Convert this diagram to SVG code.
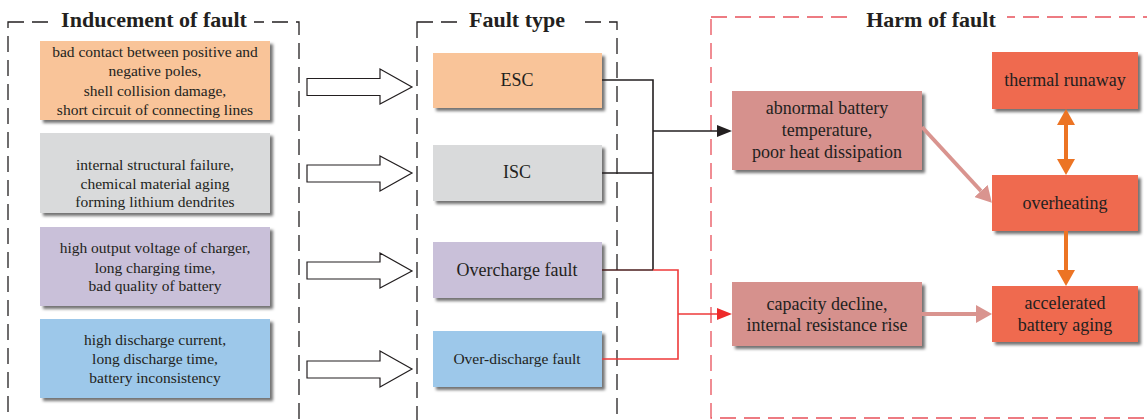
<svg xmlns="http://www.w3.org/2000/svg" width="1147" height="420" viewBox="0 0 1147 420">
<style>
.t{font-family:"Liberation Serif","Times New Roman",serif;fill:#231f20;text-anchor:middle}
.title{font-size:22px;font-weight:bold}
.s{font-size:15.5px}
.m{font-size:18px}
.r{font-size:18px}
.panel{fill:none;stroke:#231f20;stroke-width:1.3;stroke-dasharray:16 8}
.rpanel{fill:none;stroke:#e8505a;stroke-width:1.3;stroke-dasharray:16 8}
.box{filter:url(#sh)}
.hollow{fill:#fff;stroke:#231f20;stroke-width:1.2}
.blk{fill:none;stroke:#231f20;stroke-width:1.6}
.red{fill:none;stroke:#ee3a3a;stroke-width:1.6}
.org{fill:none;stroke:#ec7424;stroke-width:4}
.pnk{fill:none;stroke:#d9948f;stroke-width:4}
</style>
<defs>
<filter id="sh" x="-10%" y="-10%" width="130%" height="140%">
<feDropShadow dx="3" dy="3" stdDeviation="1.6" flood-color="#000" flood-opacity="0.55"/>
</filter>
<marker id="mo" markerUnits="userSpaceOnUse" markerWidth="17" markerHeight="18" refX="0" refY="9" orient="auto-start-reverse"><path d="M0,0 L16,9 L0,18 z" fill="#ec7424"/></marker>
<marker id="mp" markerUnits="userSpaceOnUse" markerWidth="17" markerHeight="18" refX="0" refY="9" orient="auto-start-reverse"><path d="M0,0 L16,9 L0,18 z" fill="#d9948f"/></marker>
<marker id="mb" markerUnits="userSpaceOnUse" markerWidth="15" markerHeight="12" refX="0" refY="6" orient="auto"><path d="M0,0 L15,6 L0,12 z" fill="#231f20"/></marker>
<marker id="mr" markerUnits="userSpaceOnUse" markerWidth="15" markerHeight="12" refX="0" refY="6" orient="auto"><path d="M0,0 L15,6 L0,12 z" fill="#ee2a2a"/></marker>
</defs>
<rect width="1147" height="420" fill="#fff"/>

<g id="panels">
<rect class="panel" x="8" y="22" width="291" height="420"/>
<rect x="56" y="6" width="198" height="28" fill="#fff"/>
<text class="t title" x="154" y="27">Inducement of fault</text>
<rect class="panel" x="417" y="22" width="200" height="420"/>
<rect x="461" y="6" width="119" height="28" fill="#fff"/>
<text class="t title" x="517" y="27">Fault type</text>
<rect class="rpanel" x="711" y="17" width="460" height="401"/>
<rect x="851" y="4" width="156" height="28" fill="#fff"/>
<text class="t title" x="931" y="27">Harm of fault</text>
</g>

<g id="cause-esc">
<rect class="box" x="40" y="41" width="230" height="79" fill="#f9c499"/>
<text class="t s" x="155" y="57">bad contact between positive and</text>
<text class="t s" x="155" y="76">negative poles,</text>
<text class="t s" x="155" y="96">shell collision damage,</text>
<text class="t s" x="155" y="115">short circuit of connecting lines</text>
</g>
<g id="cause-isc">
<rect class="box" x="40" y="133" width="230" height="80" fill="#d9dadb"/>
<text class="t s" x="155" y="170">internal structural failure,</text>
<text class="t s" x="155" y="189">chemical material aging</text>
<text class="t s" x="155" y="207">forming lithium dendrites</text>
</g>
<g id="cause-overcharge">
<rect class="box" x="40" y="227" width="230" height="79" fill="#c9c0d9"/>
<text class="t s" x="155" y="253">high output voltage of charger,</text>
<text class="t s" x="155" y="273">long charging time,</text>
<text class="t s" x="155" y="291">bad quality of battery</text>
</g>
<g id="cause-overdischarge">
<rect class="box" x="40" y="319" width="230" height="79" fill="#9dc8ea"/>
<text class="t s" x="155" y="345">high discharge current,</text>
<text class="t s" x="155" y="364">long discharge time,</text>
<text class="t s" x="155" y="383">battery inconsistency</text>
</g>

<g id="fault-esc">
<rect class="box" x="433" y="53" width="169" height="55" fill="#f9c499"/>
<text class="t m" x="517" y="86">ESC</text>
</g>
<g id="fault-isc">
<rect class="box" x="433" y="145" width="169" height="56" fill="#d9dadb"/>
<text class="t m" x="517" y="178">ISC</text>
</g>
<g id="fault-overcharge">
<rect class="box" x="433" y="242" width="169" height="56" fill="#c9c0d9"/>
<text class="t m" x="517" y="276">Overcharge fault</text>
</g>
<g id="fault-overdischarge">
<rect class="box" x="433" y="331" width="169" height="56" fill="#9dc8ea"/>
<text class="t" style="font-size:15.5px" x="517" y="364">Over-discharge fault</text>
</g>

<g id="harm-temperature">
<rect class="box" x="732" y="91" width="190" height="79" fill="#d6918d"/>
<text class="t r" x="827" y="114">abnormal battery</text>
<text class="t r" x="827" y="136">temperature,</text>
<text class="t r" x="827" y="158">poor heat dissipation</text>
</g>
<g id="harm-capacity">
<rect class="box" x="732" y="282" width="190" height="64" fill="#d6918d"/>
<text class="t r" x="827" y="310">capacity decline,</text>
<text class="t r" x="827" y="331">internal resistance rise</text>
</g>
<g id="harm-runaway">
<rect class="box" x="992" y="52" width="146" height="57" fill="#ef6a4f"/>
<text class="t r" x="1065" y="86">thermal runaway</text>
</g>
<g id="harm-overheating">
<rect class="box" x="992" y="175" width="146" height="56" fill="#ef6a4f"/>
<text class="t r" x="1065" y="209">overheating</text>
</g>
<g id="harm-aging">
<rect class="box" x="992" y="286" width="146" height="56" fill="#ef6a4f"/>
<text class="t r" x="1065" y="309">accelerated</text>
<text class="t r" x="1065" y="331">battery aging</text>
</g>

<g id="connectors">
<path class="hollow" d="M307,78.5 L380,78.5 L380,69 L412,87 L380,104 L380,95.5 L307,95.5 Z"/>
<path class="hollow" d="M307,165 L380,165 L380,156 L412,173 L380,191 L380,182 L307,182 Z"/>
<path class="hollow" d="M307,262 L380,262 L380,253 L412,271 L380,288 L380,279 L307,279 Z"/>
<path class="hollow" d="M307,361 L380,361 L380,351 L412,369 L380,387 L380,378 L307,378 Z"/>

<path class="blk" d="M602,80 L653,80 L653,270"/>
<path class="blk" d="M602,173 L653,173"/>
<path d="M602,270 L653,270" fill="none" stroke="#4a1c1c" stroke-width="1.6"/>
<path class="blk" d="M653,131 L717,131" marker-end="url(#mb)"/>
<path class="red" d="M653,270 L678,270 L678,359 L602,359"/>
<path class="red" d="M678,314 L717,314" marker-end="url(#mr)"/>

<path class="org" d="M1066,125 L1066,159" marker-start="url(#mo)" marker-end="url(#mo)"/>
<path class="org" d="M1066,231 L1066,270" marker-end="url(#mo)"/>
<path class="pnk" d="M922,127 L981,191" marker-end="url(#mp)"/>
<path class="pnk" d="M922,314 L976,314" marker-end="url(#mp)"/>
</g>
</svg>
